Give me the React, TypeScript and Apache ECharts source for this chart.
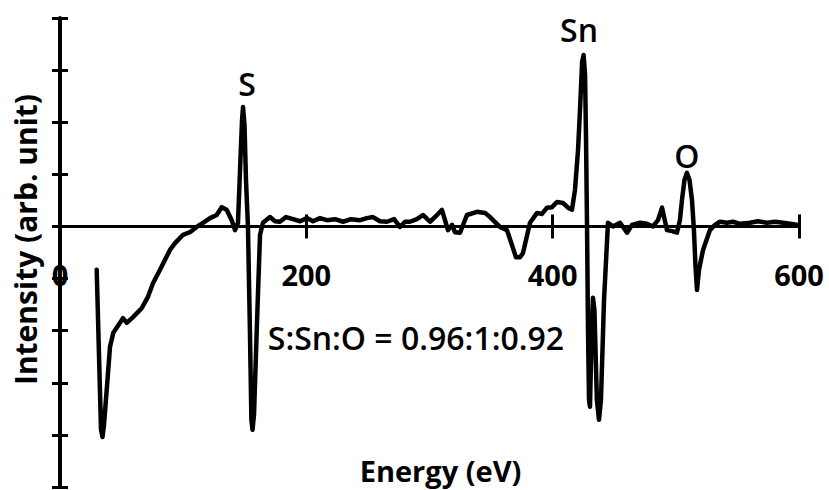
import React, { useEffect, useRef } from "react";
import * as echarts from "echarts";

const energy: number[] = [
  29.8, 33.3, 34.5, 35.7, 37.9, 40.6, 43.3, 48.7, 51.1, 54.2, 59.3, 66.3, 71.4, 75.5, 81.2, 89.3, 93.4, 99.9, 105.5, 111,
  116.1, 121.8, 127.2, 131.3, 135.3, 139.4, 142.1, 144.5,
  146.5, 147.8, 148.6, 149.8, 151.0, 152.6, 154.2, 155.4, 156.3, 157.5, 160, 162.4, 164.8, 170.5,
  174.6, 178.6, 183.5, 189.2, 194.9, 200.5, 205.4, 211.1, 216.8, 223.3, 229.8, 236.3, 243.6, 249.2, 254.1, 259.8, 265.5,
  271.2, 276, 280.1, 284.2, 289.8, 294.7, 300.4, 305.3, 310.1, 315, 318.3, 320.7, 324.8, 330.4, 338.6, 345.1, 349.1,
  357.2, 362.9, 367, 370.2, 373.5, 375.9, 381.6, 387.3, 391.3, 395.4, 399.4, 403.5, 408.4, 412.5, 415.7,
  418.1, 420.6, 422.2, 423.9, 425.1, 426.3, 427.1, 427.9, 428.7, 429.5, 430.3, 431.5, 432.7, 433.9, 435.9, 437.6,
  439.2, 441.7, 444.9,
  449, 454.7, 460.4, 464.4, 470.9, 476.6, 481.4, 485.5, 488.8, 492.8, 496.9, 500.9, 503.3, 505, 507.0, 509, 511.1,
  513.1, 514.7, 515.9, 517.2, 518.8, 522.1, 527.7, 531.8, 535.8, 541.5, 546.4, 552.1, 560.2, 566.7, 574, 580.5, 587,
  592.7, 599.2,
];

const intensity: number[] = [
  -0.83, -3.9, -4.04, -3.81, -3.14, -2.31, -2.04, -1.85, -1.76, -1.85, -1.74, -1.57, -1.35, -1.09, -0.83, -0.45, -0.32,
  -0.16, -0.11, -0.01,
  0.07, 0.16, 0.22, 0.37, 0.32, 0.12, -0.07, 0.07,
  1.28, 2.04, 2.29, 1.95, 0.89, 0, -1.99, -3.71, -3.9, -3.62, -1.8, -0.16, 0.07, 0.18,
  0.1, 0.09, 0.18, 0.14, 0.1, 0.16, 0.1, 0.16, 0.12, 0.14, 0.09, 0.14, 0.12, 0.16, 0.18, 0.1, 0.09,
  0.14, -0.01, 0.09, 0.09, 0.14, 0.22, 0.09, 0.2, 0.32, -0.07, 0.03, -0.11, -0.12, 0.22, 0.28, 0.26, 0.18,
  -0.01, -0.07, -0.36, -0.59, -0.59, -0.51, 0.07, 0.26, 0.24, 0.36, 0.37, 0.47, 0.45, 0.36, 0.32,
  0.7, 1.47, 2.24, 3.16, 3.29, 2.91, 1.66, 0, -1.99, -3.33, -3.46, -2.18, -1.37, -1.6, -3.33, -3.71,
  -3.33, -1.41, 0.07,
  0, 0.07, -0.12, 0.03, 0.07, 0.05, 0, 0.12, 0.36, -0.07, -0.09, -0.12, 0.12, 0.51, 0.89, 1.03, 0.89,
  0.51, -0.07, -0.74, -1.22, -0.83, -0.45, -0.07, 0.03, 0.09, 0.07, 0.09, 0.05, 0.07, 0.1, 0.07, 0.09, 0.07,
  0.05, 0.03,
];

const xTickLabels: string[] = ["0", "200", "400", "600"];

const peakLabels: string[] = ["S", "Sn", "O"];
const peakLabelEnergy: number[] = [151.8, 421.4, 509];
const peakLabelIntensity: number[] = [2.75, 3.77, 1.37];

const ratioText = "S:Sn:O = 0.96:1:0.92";
const ratioEnergy = 289;
const ratioIntensity = -2.14;

const FONT = "'Open Sans', 'DejaVu Sans', sans-serif";

// layout of the plot area (pixels)
const GRID_TOP = 18;
const GRID_BOTTOM_PX = 487;
const Y_MIN = -5;
const Y_MAX = 4;

export default function App() {
  const ref = useRef<HTMLDivElement>(null);

  useEffect(() => {
    if (!ref.current) return;
    const chart = echarts.init(ref.current, undefined, { renderer: "svg" });

    const lineData = energy.map((e, i) => [e, intensity[i]]);
    const axisLineStyle = { color: "#000", width: 3 };

    // the horizontal axis crosses the vertical one at intensity 0
    const plotH = GRID_BOTTOM_PX - GRID_TOP;
    const zeroFromTop = (Y_MAX / (Y_MAX - Y_MIN)) * plotH;
    const zeroFromBottom = plotH - zeroFromTop;

    const xBase = {
      type: "value" as const,
      min: 0,
      max: 600,
      interval: 200,
      splitLine: { show: false },
    };
    const yBase = {
      type: "value" as const,
      min: Y_MIN,
      max: Y_MAX,
      interval: 1,
      splitLine: { show: false },
    };

    chart.setOption({
      animation: false,
      backgroundColor: "#fff",
      grid: {
        left: 60,
        right: 30,
        top: GRID_TOP,
        bottom: 490 - GRID_BOTTOM_PX,
        containLabel: false,
        outerBoundsMode: "none",
      },
      xAxis: [
        {
          ...xBase,
          position: "bottom",
          offset: -zeroFromBottom,
          axisLine: { show: true, onZero: false, lineStyle: axisLineStyle },
          axisTick: { show: true, length: 12, lineStyle: { color: "#000", width: 3 } },
          axisLabel: {
            show: true,
            margin: 34,
            color: "#000",
            fontFamily: FONT,
            fontWeight: "bold",
            fontSize: 29,
            formatter: (v: number) => xTickLabels[Math.round(v / 200)] ?? "",
          },
          name: "Energy (eV)",
          nameLocation: "middle",
          nameGap: 244,
          nameTextStyle: {
            color: "#000",
            fontFamily: FONT,
            fontWeight: "bold",
            fontSize: 29,
            verticalAlign: "middle",
            padding: [0, 0, 0, 22],
          },
        },
        {
          ...xBase,
          position: "top",
          offset: -zeroFromTop,
          axisLine: { show: false, onZero: false },
          axisTick: { show: true, length: 12, lineStyle: { color: "#000", width: 3 } },
          axisLabel: { show: false },
        },
      ],
      yAxis: [
        {
          ...yBase,
          position: "left",
          axisLine: { show: true, onZero: false, lineStyle: { color: "#000", width: 4 } },
          axisTick: { show: true, length: 8, lineStyle: { color: "#000", width: 3 } },
          axisLabel: { show: false },
          name: "Intensity (arb. unit)",
          nameLocation: "middle",
          nameRotate: 90,
          nameGap: 35,
          nameTextStyle: {
            color: "#000",
            fontFamily: FONT,
            fontWeight: "bold",
            fontSize: 30,
            verticalAlign: "middle",
            padding: [0, 0, 0, 26],
          },
        },
        {
          ...yBase,
          position: "left",
          axisLine: { show: false, onZero: false },
          axisTick: { show: true, inside: true, length: 8, lineStyle: { color: "#000", width: 3 } },
          axisLabel: { show: false },
        },
      ],
      series: [
        {
          type: "line",
          xAxisIndex: 0,
          yAxisIndex: 0,
          data: lineData,
          showSymbol: false,
          symbol: "none",
          z: 5,
          lineStyle: { color: "#000", width: 4.5, join: "round", cap: "round" },
          markPoint: {
            symbol: "circle",
            symbolSize: 0,
            silent: true,
            label: {
              show: true,
              position: "inside",
              color: "#000",
              fontFamily: FONT,
              fontWeight: 600,
              fontSize: 32,
              formatter: (p: any) => p.name,
            },
            data: [
              ...peakLabels.map((name, i) => ({
                name,
                coord: [peakLabelEnergy[i], peakLabelIntensity[i]],
              })),
              {
                name: ratioText,
                coord: [ratioEnergy, ratioIntensity],
              },
            ],
          },
        },
      ],
    });

    return () => chart.dispose();
  }, []);

  return (
    <div
      ref={ref}
      style={{ position: "fixed", left: 0, top: 0, width: 829, height: 490, background: "#fff" }}
    />
  );
}
